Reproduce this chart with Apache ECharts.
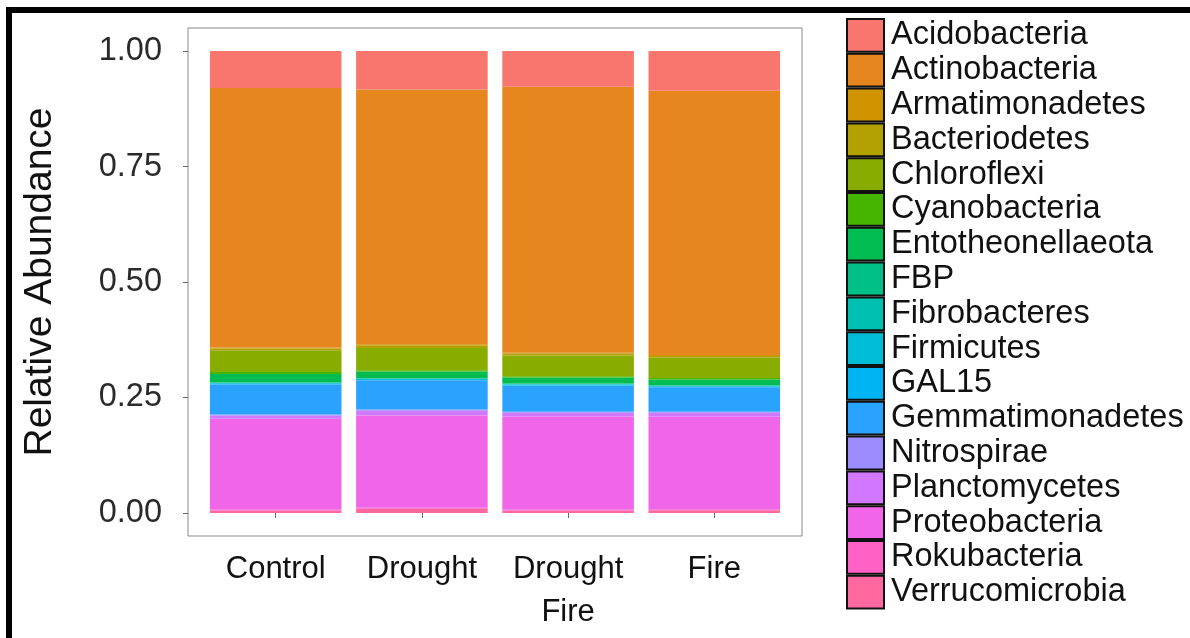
<!DOCTYPE html>
<html>
<head>
<meta charset="utf-8">
<script src="https://cdn.jsdelivr.net/npm/echarts@6/dist/echarts.min.js"></script>
<style>
html,body{margin:0;padding:0;background:#fff;}
#wrap{position:relative;width:1190px;height:638px;overflow:hidden;background:#fff;}
#chart{position:absolute;left:0;top:0;width:1190px;height:638px;}
#frame{position:absolute;left:6px;top:7px;width:1200px;height:700px;border-left:6px solid #000;border-top:6px solid #000;pointer-events:none;}
</style>
</head>
<body>
<div id="wrap"><div id="chart"></div><div id="frame"></div></div>
<script>
// Categories
const categories = ['Control', 'Drought', 'Drought\nFire', 'Fire'];
const yTickValues = [0, 0.25, 0.5, 0.75, 1.0];
const yTickLabels = ['0.00', '0.25', '0.50', '0.75', '1.00'];

// Phyla in legend order (top of stack first)
const phyla = ['Acidobacteria','Actinobacteria','Armatimonadetes','Bacteriodetes','Chloroflexi',
  'Cyanobacteria','Entotheonellaeota','FBP','Fibrobacteres','Firmicutes','GAL15',
  'Gemmatimonadetes','Nitrospirae','Planctomycetes','Proteobacteria','Rokubacteria','Verrucomicrobia'];
const colors = ['#F8766D','#E7851E','#D09400','#B2A100','#89AC00','#45B500','#00BC51','#00C087',
  '#00C0B2','#00BCD6','#00B3F2','#29A3FF','#9C8DFF','#D277FF','#F166E8','#FF61C7','#FF689E'];

// Relative abundances per category: [Control, Drought, Drought Fire, Fire]
const Acidobacteria     = [0.080, 0.083, 0.077, 0.086];
const Actinobacteria    = [0.562, 0.552, 0.576, 0.572];
const Armatimonadetes   = [0.002, 0.002, 0.002, 0.002];
const Bacteriodetes     = [0.004, 0.006, 0.004, 0.004];
const Chloroflexi       = [0.047, 0.048, 0.045, 0.044];
const Cyanobacteria     = [0.004, 0.003, 0.003, 0.003];
const Entotheonellaeota = [0.018, 0.014, 0.013, 0.012];
const FBP               = [0.001, 0.001, 0.001, 0.001];
const Fibrobacteres     = [0.001, 0.001, 0.001, 0.001];
const Firmicutes        = [0.002, 0.002, 0.002, 0.002];
const GAL15             = [0.001, 0.001, 0.001, 0.001];
const Gemmatimonadetes  = [0.065, 0.063, 0.056, 0.053];
const Nitrospirae       = [0.002, 0.003, 0.002, 0.002];
const Planctomycetes    = [0.007, 0.010, 0.008, 0.009];
const Proteobacteria    = [0.197, 0.200, 0.202, 0.200];
const Rokubacteria      = [0.002, 0.002, 0.002, 0.002];
const Verrucomicrobia   = [0.005, 0.009, 0.005, 0.006];

const values = [Acidobacteria, Actinobacteria, Armatimonadetes, Bacteriodetes, Chloroflexi,
  Cyanobacteria, Entotheonellaeota, FBP, Fibrobacteres, Firmicutes, GAL15,
  Gemmatimonadetes, Nitrospirae, Planctomycetes, Proteobacteria, Rokubacteria, Verrucomicrobia];

const FONT = 'Liberation Sans, Arial, sans-serif';

// Panel geometry (ggplot-like expansion: 0.6 category units each side, 5% on y)
const PANEL = { left: 188, top: 28, width: 614, height: 508 };
const unit = PANEL.width / (categories.length + 0.2);
const INNER = { left: PANEL.left + 0.1 * unit, top: PANEL.top, width: categories.length * unit, height: PANEL.height };

// Stack bottom-up: last phylum at the bottom
const series = [];
for (let k = phyla.length - 1; k >= 0; k--) {
  series.push({
    name: phyla[k],
    type: 'bar',
    stack: 'total',
    xAxisIndex: 1, yAxisIndex: 1,
    barWidth: '90%',
    color: colors[k],
    itemStyle: { color: colors[k] },
    emphasis: { disabled: true },
    data: values[k]
  });
}

const chart = echarts.init(document.getElementById('chart'), null, { renderer: 'canvas' });
chart.setOption({
  backgroundColor: '#fff',
  animation: false,
  textStyle: { fontFamily: FONT },
  grid: [
    Object.assign({ show: true, borderColor: '#8a8a8a', borderWidth: 1, backgroundColor: '#fff' }, PANEL),
    Object.assign({ show: false }, INNER)
  ],
  xAxis: [{
    gridIndex: 0, type: 'value', min: 0.4, max: categories.length + 0.6,
    axisLine: { show: false },
    splitLine: { show: false },
    axisTick: { show: true, customValues: categories.map((c, i) => i + 1), length: 5, lineStyle: { color: '#666' } },
    axisLabel: {
      customValues: categories.map((c, i) => i + 1),
      formatter: v => categories[Math.round(v) - 1] || '',
      fontFamily: FONT, fontSize: 31, color: '#111', margin: 12, lineHeight: 43
    }
  }, {
    gridIndex: 1, type: 'category', data: categories, show: false
  }],
  yAxis: [{
    gridIndex: 0, type: 'value', min: -0.05, max: 1.05,
    name: 'Relative Abundance', nameLocation: 'middle', nameGap: 128,
    nameTextStyle: { fontFamily: FONT, fontSize: 39, color: '#111' },
    axisLine: { show: false },
    splitLine: { show: false },
    axisTick: { show: true, customValues: yTickValues, length: 5, lineStyle: { color: '#666' } },
    axisLabel: {
      customValues: yTickValues,
      formatter: v => { const i = yTickValues.findIndex(t => Math.abs(t - v) < 1e-6); return i >= 0 ? yTickLabels[i] : ''; },
      fontFamily: FONT, fontSize: 32.5, color: '#2a2a2a', margin: 26
    }
  }, {
    gridIndex: 1, type: 'value', min: -0.05, max: 1.05, show: false, splitLine: { show: false }
  }],
  legend: {
    orient: 'vertical', left: 846, top: 18, padding: 0, height: 620,
    itemWidth: 37, itemHeight: 32.8, itemGap: 0,
    icon: 'rect', selectedMode: false,
    data: phyla,
    itemStyle: { borderColor: '#111', borderWidth: 2 },
    textStyle: { fontFamily: FONT, fontSize: 32.5, color: '#111', lineHeight: 28.8, padding: [6, 0, 0, 2] }
  },
  series: series
});
</script>
</body>
</html>
